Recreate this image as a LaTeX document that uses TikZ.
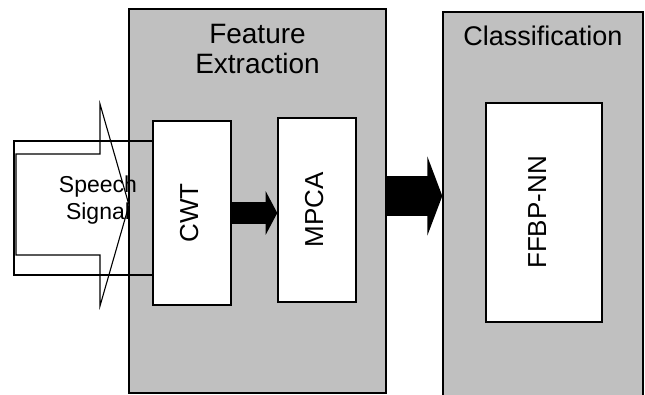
\documentclass[tikz,border=0pt]{standalone}
\usepackage{fontspec}
\setmainfont{Liberation Sans}
\usepackage{tikz}
\usetikzlibrary {positioning}
\usetikzlibrary{arrows.meta}

\definecolor{stagegray}{RGB}{192,192,192}

\begin{document}
\begin{tikzpicture}[x=1pt,y=-1pt,
    stage/.style={
      % The shape:
      rectangle,inner sep=0pt,
      % Border and fill
      line width=1.4pt,draw=black,fill=stagegray
      },
    block/.style={
      rectangle,inner sep=0pt,
      line width=1.4pt,draw=black,fill=white,
      font=\fontsize{26}{31}\selectfont
      },
    title/.style={align=center,inner sep=0pt,outer sep=0pt,
      font=\fontsize{27}{30}\selectfont},
    flow/.style n args={3}{line width=#1,-{Triangle[width=#2,length=#3]}}]
  \useasboundingbox (0,0) rectangle (645,394);
  % the two stages
  \node (feature) [stage,minimum width=257pt,minimum height=384pt] at (257.5,200.8) {};
  \node (classification) [stage,minimum width=200pt,minimum height=400pt] at (543,212) {};
  \node (feature-title) [title,font=\fontsize{28}{30}\selectfont,below=16.5pt of feature.north] {Feature\\Extraction};
  \node (classification-title) [title,below=15pt of classification.north] {Classification};
  % input arrow and its frame
  \draw [line width=1.1pt,fill=white] (16,154) -- (100,154) -- (100,104) -- (129,205)
    -- (100,306) -- (100,255) -- (16,255) -- cycle;
  \draw [line width=1.1pt] (14,141) rectangle (153,275);
  \node (speech) [title,anchor=north,font=\fontsize{23}{27.7}\selectfont] at (98,175.5) {Speech\\Signal};
  % processing blocks
  \node (cwt) [block,minimum width=78pt,minimum height=184pt] at (192,213) {\rotatebox{90}{\strut CWT}};
  \node (mpca) [block,minimum width=78pt,minimum height=184pt] at (317,210) {\rotatebox{90}{\strut MPCA}};
  \node (ffbp) [block,minimum width=116pt,minimum height=219pt] at (544,212.5) {};
  \node (ffbp-label) [font=\fontsize{26}{31}\selectfont,inner sep=0pt] at ([xshift=-4pt]ffbp) {\rotatebox{90}{\strut FFBP-NN}};
  % data flow
  \draw [flow={21.5pt}{43.5pt}{11.7pt}] (cwt.east) -- (cwt.east -| mpca.west);
  \coordinate (feature-out) at ([yshift=4.8pt]feature.east);
  \draw [flow={40pt}{79pt}{15pt}] (feature-out) -- (feature-out -| classification.west);
\end{tikzpicture}
\end{document}
